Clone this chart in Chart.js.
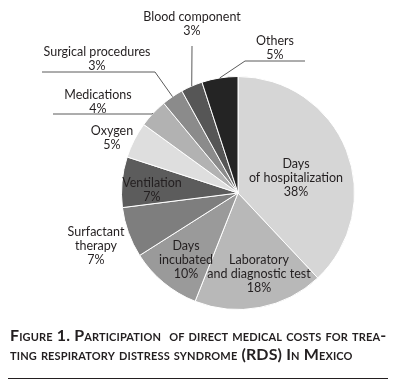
<!DOCTYPE html>
<html>
<head>
<meta charset="utf-8">
<script src="https://cdn.jsdelivr.net/npm/chart.js@4.4.1/dist/chart.umd.min.js"></script>
<style>
  html, body { margin: 0; padding: 0; background: #fff; }
  #wrap { position: relative; width: 395px; height: 391px; }
  #pie { position: absolute; left: 0; top: 0; }
  .cap {
    position: absolute; left: 10px; white-space: nowrap;
    font-family: "Lato", sans-serif; font-weight: 700; font-size: 16px;
    font-variant: small-caps; color: #231f20; letter-spacing: 0.14px;
  }
  #rule { position: absolute; left: 8px; top: 378px; width: 380px; height: 0; border-top: 1px solid #231f20; }
</style>
</head>
<body>
<div id="wrap">
  <canvas id="pie" width="395" height="391"></canvas>
  <div class="cap" id="cap1" style="top:325px">Figure 1. Participation&nbsp; of direct medical costs for trea-</div>
  <div class="cap" id="cap2" style="top:344px">ting respiratory distress syndrome (RDS) In Mexico</div>
  <div id="rule"></div>
</div>
<script>
// kosten categorieën en aandelen (%)
const categories = [
    "Days of hospitalization",
    "Laboratory and diagnostic test",
    "Days incubated",
    "Surfactant therapy",
    "Ventilation",
    "Oxygen",
    "Medications",
    "Surgical procedures",
    "Blood component",
    "Others"
];
const shares = [38, 18, 10, 7, 7, 5, 4, 3, 3, 5];
const sliceColors = [
    "#d6d6d6", "#b8b8b8", "#9a9a9a", "#7e7e7e", "#5c5c5c",
    "#dedede", "#b2b2b2", "#8b8b8b", "#565656", "#242424"
];

// label regels en plaats t.o.v. het middelpunt
const labelLines = [
    ["Days", "of hospitalization"],
    ["Laboratory", "and diagnostic test"],
    ["Days", "incubated"],
    ["Surfactant", "therapy"],
    ["Ventilation"],
    ["Oxygen"],
    ["Medications"],
    ["Surgical procedures"],
    ["Blood component"],
    ["Others"]
];
const labelLayout = [
    { dx: 58, dy: -29 },
    { dx: 21, dy: 67 },
    { dx: -52, dy: 53 },
    { dx: -142, dy: 39 },
    { dx: -86, dy: -10 },
    { dx: -126, dy: -62 },
    { dx: -140, dy: -98, leader: [[-185, -79], [-86, -79]] },
    { dx: -141, dy: -141, leader: [[-196, -121], [-83, -121]] },
    { dx: -46, dy: -176, leader: [[-46, -147]] },
    { dx: 37, dy: -152, leader: [[67, -132], [7, -132]] }
];

const labelPlugin = {
    id: 'pieLabels',
    afterDraw(chart) {
        const ctx = chart.ctx;
        const meta = chart.getDatasetMeta(0);
        ctx.save();
        ctx.font = '12.5px "Lato", sans-serif';
        ctx.fillStyle = '#231f20';
        ctx.textAlign = 'center';
        ctx.textBaseline = 'middle';
        meta.data.forEach((arc, i) => {
            const p = arc.getProps(['x', 'y', 'startAngle', 'endAngle', 'outerRadius']);
            const lay = labelLayout[i];
            const lines = labelLines[i].concat([shares[i] + '%']);
            if (lay.leader) {
                const mid = (p.startAngle + p.endAngle) / 2;
                const ex = p.x + Math.cos(mid) * p.outerRadius;
                const ey = p.y + Math.sin(mid) * p.outerRadius;
                ctx.strokeStyle = '#5a5a5a';
                ctx.lineWidth = 1;
                ctx.beginPath();
                ctx.moveTo(ex, ey);
                // punten van binnen naar buiten
                const pts = lay.leader.slice().reverse();
                pts.forEach(pt => ctx.lineTo(p.x + pt[0], p.y + pt[1]));
                ctx.stroke();
            }
            lines.forEach((t, k) => {
                ctx.fillText(t, p.x + lay.dx, p.y + lay.dy + k * 14);
            });
        });
        ctx.restore();
    }
};

new Chart(document.getElementById('pie').getContext('2d'), {
    type: 'pie',
    data: {
        labels: categories,
        datasets: [{
            data: shares,
            backgroundColor: sliceColors,
            borderColor: '#ffffff',
            borderWidth: 1
        }]
    },
    options: {
        responsive: false,
        animation: false,
        layout: { padding: { left: 121, right: 40, top: 76, bottom: 81 } },
        plugins: {
            legend: { display: false },
            tooltip: { enabled: false }
        }
    },
    plugins: [labelPlugin]
});
</script>
</body>
</html>
